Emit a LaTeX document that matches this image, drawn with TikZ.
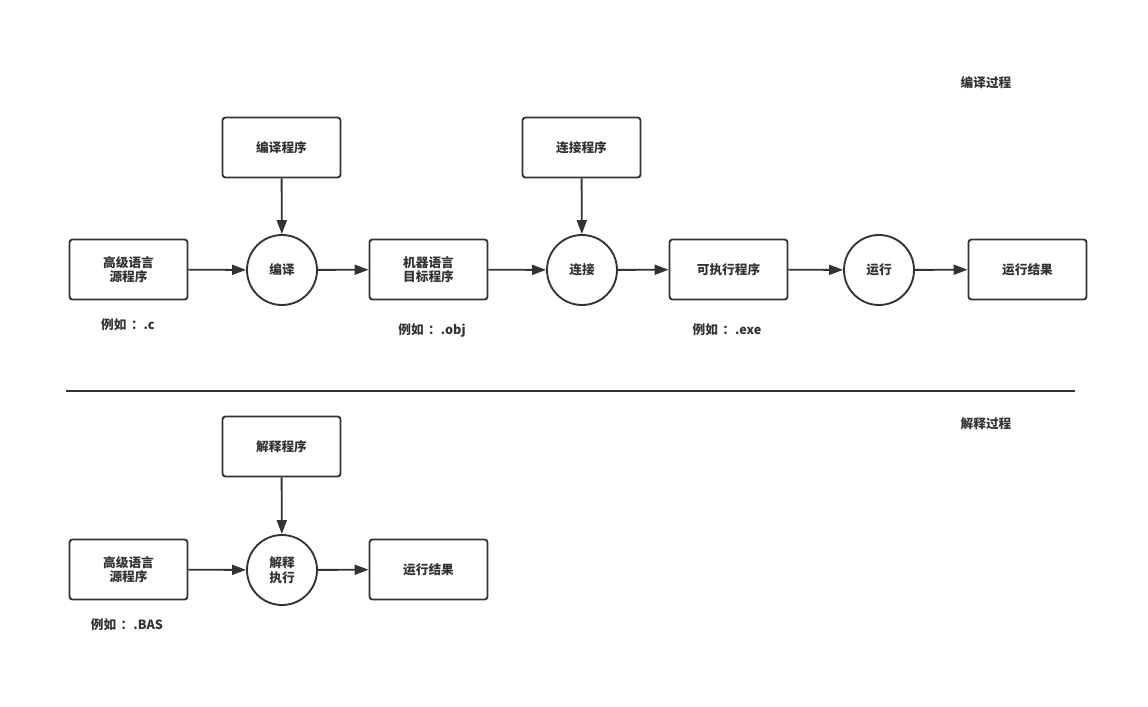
\documentclass[tikz,border=0pt]{standalone}
\usepackage{fontspec}
\setmainfont{Noto Sans CJK SC}
\usetikzlibrary{arrows.meta}
\definecolor{ink}{HTML}{333333}
\tikzset{
  box/.style={draw=ink, line width=1.4pt, rounded corners=2.2pt, minimum width=88.5pt, minimum height=45pt, inner sep=0pt, align=center, font=\fontsize{9.5pt}{11pt}\selectfont\bfseries, text=ink},
  circ/.style={draw=ink, line width=1.4pt, circle, minimum size=52.5pt, inner sep=0pt, align=center, font=\fontsize{9.5pt}{11pt}\selectfont\bfseries, text=ink},
  lbl/.style={font=\fontsize{9.5pt}{11pt}\selectfont\bfseries, text=ink, inner sep=0pt},
  arr/.style={draw=ink, line width=1.4pt, -{Triangle[length=10.5pt,width=7.5pt]}}
}
\newcommand{\eg}[1]{例如\hspace{0.35em}：#1}
\begin{document}
\begin{tikzpicture}[x=0.75pt,y=-0.75pt]
\useasboundingbox (0,0) rectangle (1148,706);
% top row
\node[box] (src) at (128.5,269.5) {高级语言\\源程序};
\node[circ] (comp) at (282,270) {编译};
\node[box] (obj) at (428.5,269.5) {机器语言\\目标程序};
\node[circ] (link) at (582,270) {连接};
\node[box] (exe) at (728.5,269.5) {可执行程序};
\node[circ] (run) at (879,270) {运行};
\node[box] (res) at (1027.5,269.5) {运行结果};
\node[box] (compp) at (281.5,147.5) {编译程序};
\node[box] (linkp) at (581.5,147.5) {连接程序};
\node[lbl] (e1) at (128,325) {\eg{.c}};
\node[lbl] (e2) at (432,330) {\eg{.obj}};
\node[lbl] (e3) at (727,330) {\eg{.exe}};
\node[lbl] (t1) at (986,83) {编译过程};
\draw[arr] (src) -- (comp);
\draw[arr] (comp) -- (obj);
\draw[arr] (obj) -- (link);
\draw[arr] (link) -- (exe);
\draw[arr] (exe) -- (run);
\draw[arr] (run) -- (res);
\draw[arr] (compp) -- (comp);
\draw[arr] (linkp) -- (link);
% divider
\coordinate (d1) at (66,391);
\coordinate (d2) at (1075,391);
\draw[draw=ink, line width=1.4pt] (d1) -- (d2);
% bottom row
\node[lbl] (t2) at (986,424) {解释过程};
\node[box] (interp) at (281.5,446.5) {解释程序};
\node[box] (src2) at (128.5,569.5) {高级语言\\源程序};
\node[circ] (exec) at (282,570) {解释\\执行};
\node[box] (res2) at (428.5,569.5) {运行结果};
\node[lbl] (e4) at (127,625) {\eg{.BAS}};
\draw[arr] (src2) -- (exec);
\draw[arr] (exec) -- (res2);
\draw[arr] (interp) -- (exec);
\end{tikzpicture}
\end{document}
